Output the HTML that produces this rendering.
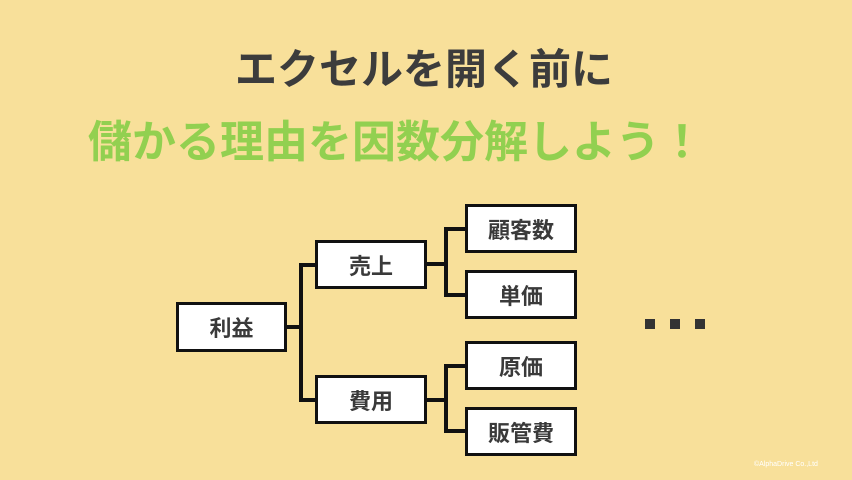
<!DOCTYPE html><html><head><meta charset="utf-8"><style>
body{margin:0;width:852px;height:480px;background:#f8e09a;position:relative;overflow:hidden;font-family:"Liberation Sans","Noto Sans CJK JP",sans-serif;}
.t{position:absolute;white-space:nowrap;font-weight:bold;line-height:1;}
.b{position:absolute;box-sizing:border-box;background:#fff;border:3px solid #111;display:flex;align-items:center;justify-content:center;font-weight:bold;font-size:22px;color:#3a3a3a;}
.l{position:absolute;background:#111;}
</style></head><body>
<div class="t" style="left:235px;top:49px;font-size:42px;color:#3c3c3c;">エクセルを開く前に</div>
<div class="t" style="left:88px;top:121px;font-size:44px;color:#92d050;">儲かる理由を因数分解しよう！</div>
<div class="b" style="left:176px;top:302px;width:111px;height:50px">利益</div>
<div class="b" style="left:315px;top:240px;width:112px;height:49px">売上</div>
<div class="b" style="left:315px;top:375px;width:112px;height:49px">費用</div>
<div class="b" style="left:465px;top:204px;width:112px;height:49px">顧客数</div>
<div class="b" style="left:465px;top:270px;width:112px;height:49px">単価</div>
<div class="b" style="left:465px;top:341px;width:112px;height:49px">原価</div>
<div class="b" style="left:465px;top:407px;width:112px;height:49px">販管費</div>
<div class="l" style="left:286px;top:325px;width:16px;height:4px"></div>
<div class="l" style="left:299px;top:263px;width:4px;height:139px"></div>
<div class="l" style="left:299px;top:263px;width:17px;height:4px"></div>
<div class="l" style="left:299px;top:398px;width:17px;height:4px"></div>
<div class="l" style="left:426px;top:262px;width:22px;height:4px"></div>
<div class="l" style="left:444px;top:227px;width:4px;height:70px"></div>
<div class="l" style="left:444px;top:227px;width:22px;height:4px"></div>
<div class="l" style="left:444px;top:293px;width:22px;height:4px"></div>
<div class="l" style="left:426px;top:398px;width:22px;height:4px"></div>
<div class="l" style="left:444px;top:364px;width:4px;height:68px"></div>
<div class="l" style="left:444px;top:364px;width:22px;height:4px"></div>
<div class="l" style="left:444px;top:429px;width:22px;height:4px"></div>
<div class="l" style="left:645px;top:319px;width:10px;height:10px;background:#333"></div>
<div class="l" style="left:670px;top:319px;width:10px;height:10px;background:#333"></div>
<div class="l" style="left:695px;top:319px;width:10px;height:10px;background:#333"></div>
<div class="t" style="left:754px;top:461px;font-size:7px;color:#fff;font-weight:normal">©AlphaDrive Co.,Ltd</div>
</body></html>
